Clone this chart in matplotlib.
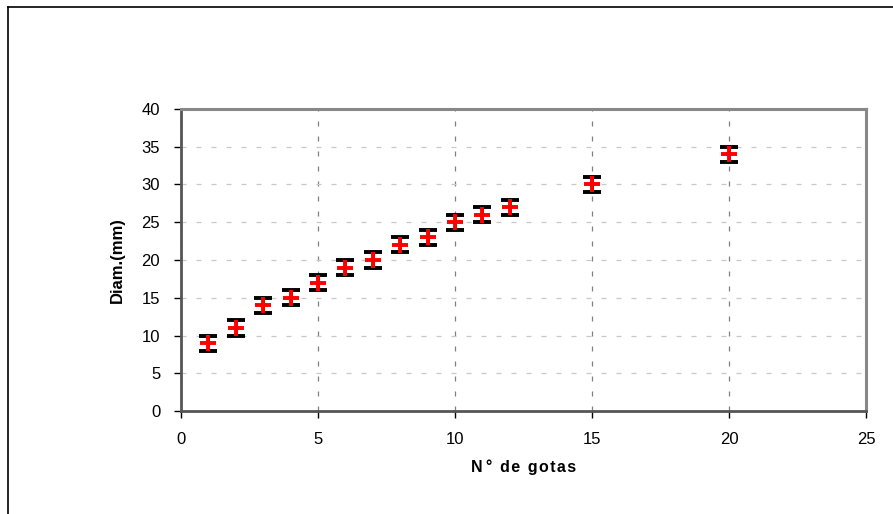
import numpy as np
import matplotlib as mpl
mpl.use('Agg')
import matplotlib.pyplot as plt
from matplotlib.lines import Line2D

mpl.rcParams['font.family'] = ['Liberation Sans', 'DejaVu Sans']
mpl.rcParams['font.size'] = 10

# data
n_gotas = [1, 2, 3, 4, 5, 6, 7, 8, 9, 10, 11, 12, 15, 20]
diam = [9, 11, 14, 15, 17, 19, 20, 22, 23, 25, 26, 27, 30, 34]
erro = [1, 1, 1, 1, 1, 1, 1, 1, 1, 1, 1, 1, 1, 1]
xticks = [0, 5, 10, 15, 20, 25]
yticks = [0, 5, 10, 15, 20, 25, 30, 35, 40]

W, H = 893, 514
fig = plt.figure(figsize=(W / 100, H / 100), dpi=100)
ax = fig.add_axes([181 / W, 1 - 411 / H, (866 - 181) / W, (411 - 109) / H])

# outer frame of the chart object (left + top only visible)
fig.add_artist(Line2D([8 / W, 8 / W], [0, 1 - 7 / H], color='black', lw=1.2))
fig.add_artist(Line2D([8 / W, 1], [1 - 7 / H, 1 - 7 / H], color='black', lw=1.2))

ax.errorbar(n_gotas, diam, yerr=erro, fmt='none', ecolor='black',
            elinewidth=2.0, capsize=6.5, capthick=2.8, zorder=3)
ax.plot(n_gotas, diam, linestyle='none', marker='+', color='red',
        markersize=12, markeredgewidth=2.8, zorder=4)

ax.set_xlim(0, 25)
ax.set_ylim(0, 40)
ax.set_xticks(xticks)
ax.set_yticks(yticks)

ax.grid(axis='y', color='#c8c8c8', linestyle=(0, (4, 8)), linewidth=0.9)
ax.grid(axis='x', color='#808080', linestyle=(0, (4, 8)), linewidth=0.9)
ax.set_axisbelow(True)

for s in ['top', 'right']:
    ax.spines[s].set_color('#888888')
    ax.spines[s].set_linewidth(2.2)
for s in ['left', 'bottom']:
    ax.spines[s].set_color('#555555')
    ax.spines[s].set_linewidth(2.0)

ax.tick_params(direction='out', length=5, width=1, colors='black', labelsize=12)
ax.tick_params(axis='y', pad=10)
ax.tick_params(axis='x', pad=10)

ax.set_xlabel('N\u2009°\u2009 d\u200ae\u2009 g\u200ao\u200at\u200aa\u200as', fontsize=11.5, fontweight='bold', labelpad=9)
ax.set_ylabel('Diam.(mm)', fontsize=12, fontweight='bold', labelpad=12)

fig.savefig('out.png', dpi=100)
